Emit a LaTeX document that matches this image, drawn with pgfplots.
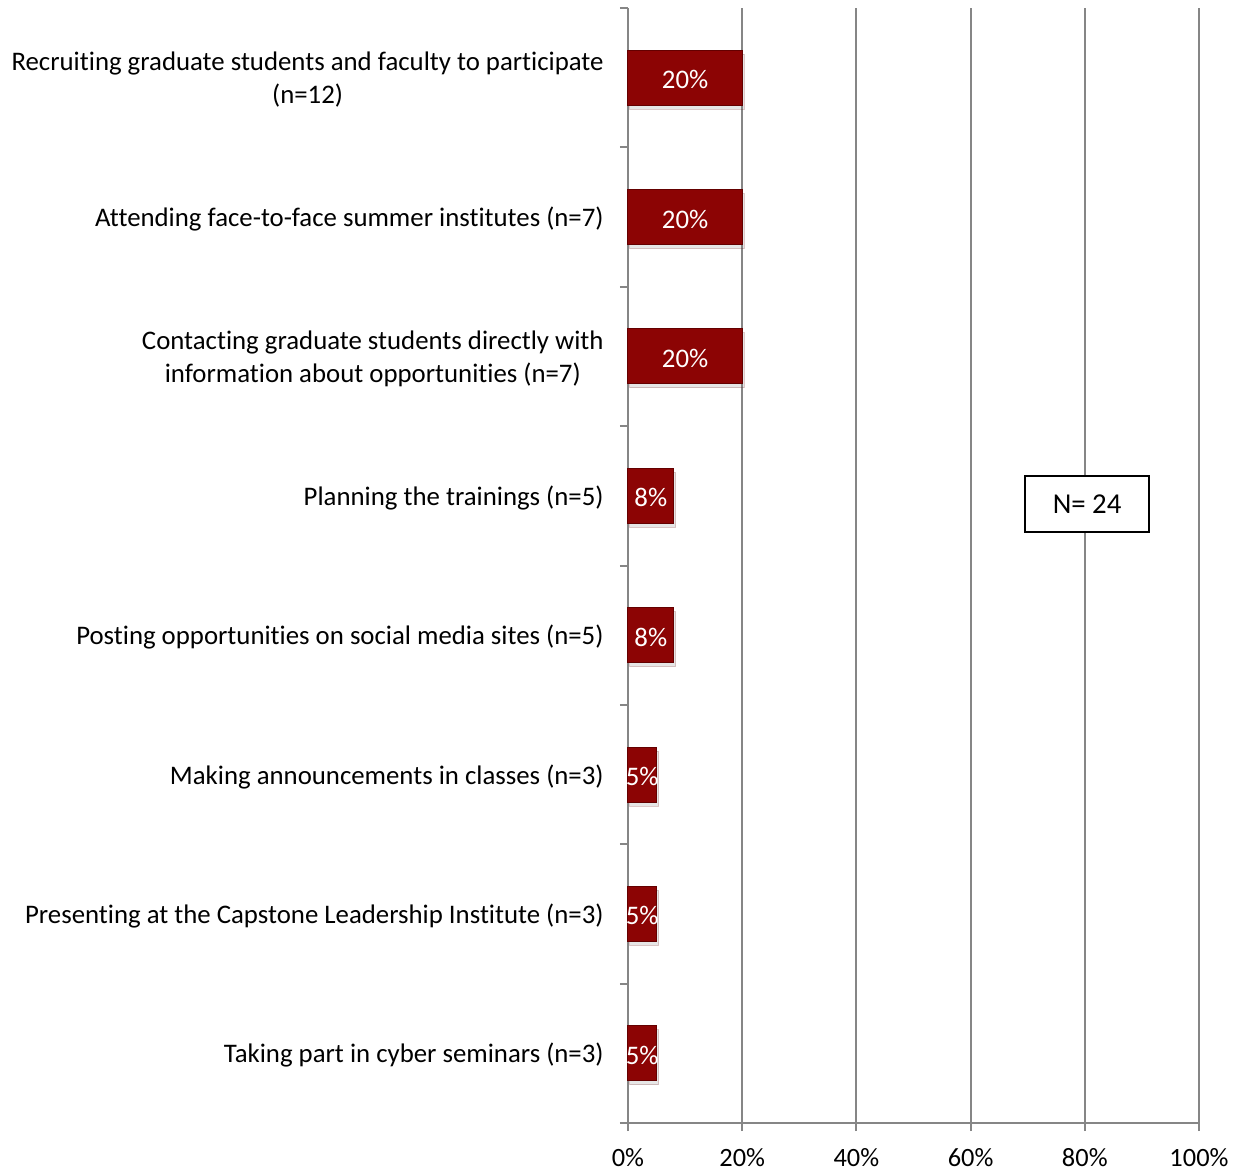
\documentclass[border=0pt]{standalone}
\usepackage{pgfplots}
\pgfplotsset{compat=1.18}
\usepackage{fontspec}
\setmainfont{Carlito}[Ligatures=NoCommon]
\usetikzlibrary{shadows}
\definecolor{barred}{RGB}{140,4,4}
\definecolor{bardark}{RGB}{100,0,0}
\definecolor{gridgray}{RGB}{134,134,134}
\begin{document}
\begin{tikzpicture}
\begin{axis}[
  scale only axis,
  width=285.5pt, height=557.5pt,
  xmin=0, xmax=100,
  ymin=-0.5, ymax=7.5,
  y dir=reverse,
  /pgf/number format/assume math mode=true,
  axis x line*=bottom,
  axis y line*=left,
  axis line style={gridgray, line width=1pt},
  xtick={0,20,...,100},
  xticklabel={\pgfmathprintnumber{\tick}\%},
  xmajorgrids,
  major grid style={gridgray, line width=1pt},
  major x tick style={gridgray, line width=1pt},
  major tick length=4pt,
  tick align=outside,
  xticklabel style={font=\fontsize{13.2}{15}\selectfont, yshift=-5pt},
  ytick={0,...,7},
  yticklabels={
    {Recruiting graduate students and faculty to participate\\(n=12)},
    {Attending face-to-face summer institutes (n=7)},
    {Contacting graduate students directly with\\information about opportunities (n=7)},
    {Planning the trainings (n=5)},
    {Posting opportunities on social media sites (n=5)},
    {Making announcements in classes (n=3)},
    {Presenting at the Capstone Leadership Institute (n=3)},
    {Taking part in cyber seminars (n=3)}},
  major y tick style={draw=none},
  minor ytick={-0.5,0.5,...,7.5},
  minor y tick style={gridgray, line width=1pt},
  minor tick length=4pt,
  yticklabel style={font=\fontsize{13.4}{16.5}\selectfont, align=center, anchor=east, inner sep=0pt, xshift=-8pt, yshift=-1pt},
  xbar, bar width=0.395,
  bar shift=0pt,
  visualization depends on={rawx \as \rawx},
  nodes near coords={\pgfmathprintnumber{\pgfplotspointmeta}\%},
  every node near coord/.append style={font=\fontsize{13.4}{15}\selectfont, color=white, anchor=center, inner sep=0pt, xshift={-1.4275pt*\rawx}, yshift=-1pt},
  clip=false,
]
\addplot[fill=barred, draw=bardark, line width=0.5pt,
  drop shadow={shadow xshift=1pt, shadow yshift=-2pt, opacity=0.2}]
  coordinates {(20,0) (20,1) (20,2) (8,3) (8,4) (5,5) (5,6) (5,7)};
\node[draw=black, line width=0.8pt, fill=white, minimum width=62pt, minimum height=28pt,
  font=\fontsize{14.4}{16}\selectfont] at (axis cs:80.4,3.06) {N= 24};
\end{axis}
\pgfresetboundingbox
\path (-314pt,-24pt) rectangle (304pt,561.5pt);
\end{tikzpicture}
\end{document}
